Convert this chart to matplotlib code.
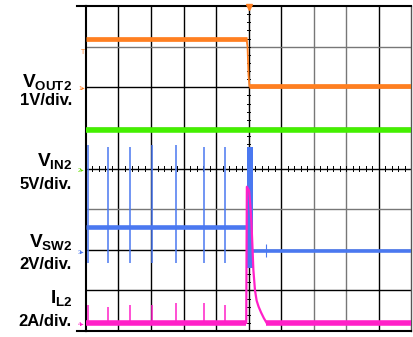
import matplotlib
matplotlib.use("Agg")
import matplotlib.pyplot as plt

plt.rcParams['mathtext.fontset'] = 'custom'
plt.rcParams['mathtext.rm'] = 'Liberation Sans:bold'
plt.rcParams['mathtext.it'] = 'Liberation Sans:bold'
plt.rcParams['mathtext.bf'] = 'Liberation Sans:bold'
plt.rcParams['font.family'] = ['Liberation Sans', 'DejaVu Sans']

# ---- data (screen divisions: x 0..10, y -4..4) ----
# VOUT2 (orange)
vout_t = [0.0, 4.94, 4.97, 5.0, 5.03, 5.06, 10.0]
vout_v = [3.18, 3.18, 3.0, 2.3, 2.02, 2.02, 2.02]
# VIN2 (green)
vin_t = [0.0, 10.0]
vin_v = [0.95, 0.95]
# VSW2 (blue) level before / after
vsw_t = [0.0, 4.94, 5.14, 10.0]
vsw_v = [-1.43, -1.43, -2.02, -2.02]
# switching spikes
spike_t = [0.05, 0.68, 1.35, 2.03, 2.76, 3.64, 4.27]
vsw_spike_top = [0.59, 0.54, 0.54, 0.59, 0.59, 0.54, 0.54]
vsw_spike_bot = [-2.32, -2.32, -2.32, -2.32, -2.32, -2.32, -2.32]
il_spike_top = [-3.35, -3.4, -3.35, -3.35, -3.3, -3.3, -3.35]
# burst at trigger
burst_t = [4.94, 5.14]
burst_top = [0.54, 0.54]
burst_bot = [-2.44, -2.44]
# small spike after
post_t = [5.53]
post_top = [-1.87]
post_bot = [-2.19]
# IL2 (pink)
il_base_t1 = [0.0, 4.93]
il_base_t2 = [5.55, 10.0]
il_base_v = [-3.8, -3.8]
il_tr_t = [4.93, 4.95, 5.02, 5.06, 5.09, 5.12, 5.15, 5.2, 5.25, 5.31, 5.39, 5.47, 5.55]
il_tr_v = [-3.8, -0.45, -0.55, -0.95, -1.33, -1.9, -2.5, -3.0, -3.25, -3.4, -3.55, -3.68, -3.79]

ORANGE = '#FF7F20'
GREEN = '#44F000'
BLUE = '#4A78F0'
PINK = '#FF20C8'

W, H = 414, 337
fig = plt.figure(figsize=(W / 100, H / 100), dpi=100)
fig.patch.set_facecolor('white')
L, R, T, B = 86, 411, 6, 331
ax = fig.add_axes([L / W, 1 - B / H, (R - L) / W, (B - T) / H])
ax.set_xlim(0, 10)
ax.set_ylim(-4, 4)
ax.set_xticks([])
ax.set_yticks([])

# grid
vcol = ['k', 'k', 'k', 'k', 'k', 'k', '#777777', '#777777', 'k']
for i, c in zip(range(1, 10), vcol):
    ax.axvline(i, color=c, lw=1.0, zorder=1)
hcol = ['#777777', 'k', 'k', 'k', '#777777', 'k', 'k']
for j, c in zip(range(-3, 4), hcol[::-1]):
    ax.axhline(j, color=c, lw=1.0, zorder=1)
# center minor ticks
for k in range(1, 50):
    xx = k * 0.2
    ax.plot([xx, xx], [-0.06, 0.06], color='k', lw=0.7, zorder=1)
for k in range(1, 40):
    yy = -4 + k * 0.2
    ax.plot([4.94, 5.06], [yy, yy], color='k', lw=0.7, zorder=1)

for s in ['left', 'top', 'bottom']:
    ax.spines[s].set_color('k')
    ax.spines[s].set_linewidth(1.5)
ax.spines['right'].set_color('#555555')
ax.spines['right'].set_linewidth(1.0)

# traces
ax.plot(vin_t, vin_v, color=GREEN, lw=4.0, solid_capstyle='butt', zorder=3)
ax.plot(vout_t[:2], vout_v[:2], color=ORANGE, lw=3.4, solid_capstyle='butt', zorder=3)
ax.plot(vout_t[1:6], vout_v[1:6], color=ORANGE, lw=1.3, zorder=3)
ax.plot(vout_t[4:], vout_v[4:], color=ORANGE, lw=3.4, solid_capstyle='butt', zorder=3)

ax.plot(vsw_t[:2], vsw_v[:2], color=BLUE, lw=3.3, solid_capstyle='butt', zorder=3)
ax.plot(vsw_t[2:], vsw_v[2:], color=BLUE, lw=2.6, solid_capstyle='butt', zorder=3)
ax.vlines(spike_t, vsw_spike_bot, vsw_spike_top, color=BLUE, lw=1.1, zorder=3)
ax.fill_between(burst_t, burst_bot, burst_top, color=BLUE, lw=0, zorder=3)
ax.vlines(post_t, post_bot, post_top, color=BLUE, lw=0.8, zorder=3)

ax.plot(il_base_t1, il_base_v, color=PINK, lw=4.0, solid_capstyle='butt', zorder=4)
ax.plot(il_base_t2, il_base_v, color=PINK, lw=4.0, solid_capstyle='butt', zorder=4)
ax.plot(il_tr_t, il_tr_v, color=PINK, lw=1.6, zorder=4)
ax.vlines(spike_t, il_base_v[0], il_spike_top, color=PINK, lw=1.1, zorder=4)

# trigger marker on top
ax.plot([5.0], [3.97], marker='v', color=ORANGE, ms=4, clip_on=False, zorder=5)

# frame extensions to the left
fig.add_artist(plt.Line2D([77 / W, L / W], [1 - 6 / H, 1 - 6 / H], color='k', lw=1.5))
fig.add_artist(plt.Line2D([77 / W, L / W], [1 - 331 / H, 1 - 331 / H], color='k', lw=1.5))

# channel ground markers
def fx(px):
    return px / W

def fy(py):
    return 1 - py / H

fig.text(fx(83), fy(52), 'T', color=ORANGE, fontsize=5, ha='center', va='center')
fig.text(fx(82), fy(88), '1\u25B8', color=ORANGE, fontsize=4.5, ha='center', va='center')
fig.text(fx(81), fy(170), '2\u25B8', color='#66DD00', fontsize=4.5, ha='center', va='center')
fig.text(fx(81), fy(252), '3\u25B8', color=BLUE, fontsize=4.5, ha='center', va='center')
fig.text(fx(81), fy(324), '4\u25B8', color=PINK, fontsize=4.5, ha='center', va='center')

# labels
labels = [(r'$V_{OUT2}$', '1V/div.', 87, 105),
          (r'$V_{IN2}$', '5V/div.', 166, 189),
          (r'$V_{SW2}$', '2V/div.', 247, 269),
          (r'$I_{L2}$', '2A/div.', 303, 326)]
for name, scale, yb1, yb2 in labels:
    fig.text(fx(72), fy(yb1), name, fontsize=13.8, ha='right', va='baseline', color='k')
    fig.text(fx(72), fy(yb2), scale, fontsize=12, fontweight='bold', ha='right', va='baseline', color='k')

fig.savefig('out.png', dpi=100, facecolor='white')
